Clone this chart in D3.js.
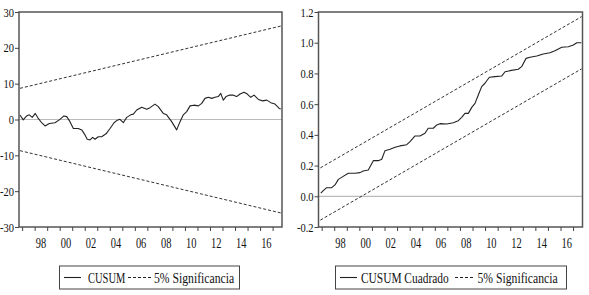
<!DOCTYPE html>
<html><head><meta charset="utf-8">
<script src="https://cdn.jsdelivr.net/npm/d3@7/dist/d3.min.js"></script>
<style>
body{margin:0;background:#fff;}
svg{display:block;}
text{font-family:"Liberation Serif","Times New Roman",serif;fill:#111;}
</style></head>
<body><svg id="c" width="589" height="295"></svg>
<script>
// ---- data (decimal years) ----
const cusumYears = [1996.83,1997.09,1997.36,1997.57,1997.81,1998.05,1998.29,1998.56,1998.83,1999.17,1999.62,1999.97,2000.34,2000.56,2000.82,2001.09,2001.48,2001.76,2002.02,2002.20,2002.42,2002.63,2002.82,2003.08,2003.35,2003.70,2004.02,2004.34,2004.55,2004.81,2005.08,2005.35,2005.67,2005.88,2006.15,2006.55,2006.95,2007.21,2007.61,2007.87,2008.27,2008.54,2008.94,2009.34,2009.61,2009.87,2010.14,2010.41,2010.72,2011.07,2011.34,2011.60,2011.87,2012.14,2012.40,2012.66,2012.86,2013.06,2013.28,2013.54,2013.86,2014.13,2014.40,2014.72,2014.98,2015.25,2015.52,2015.86,2016.21,2016.53,2016.85,2017.19,2017.53,2017.65];
const cusumValues = [1.26,-0.1,1.0,1.3,0.6,1.7,0.3,-0.9,-1.8,-1.1,-0.9,-0.1,1.0,0.8,-0.6,-2.5,-2.5,-2.9,-4.3,-5.5,-5.7,-5.0,-5.5,-4.8,-4.8,-4.0,-2.5,-0.9,-0.3,0.05,-0.9,0.6,1.3,1.5,2.65,3.4,2.85,3.3,4.3,3.6,1.7,1.3,-0.6,-2.9,-0.6,1.3,2.2,3.8,4.0,3.8,4.5,5.9,6.2,5.9,6.2,6.4,7.3,5.4,6.4,6.8,6.8,6.4,7.1,7.6,7.1,6.2,6.8,5.6,5.2,5.4,4.7,4.3,3.1,2.9];
const sqYears = [1996.93,1997.13,1997.40,1997.80,1998.06,1998.33,1998.68,1999.12,1999.65,2000.05,2000.31,2000.71,2001.11,2001.51,2001.78,2002.04,2002.44,2002.84,2003.23,2003.77,2004.03,2004.43,2004.82,2005.22,2005.48,2005.88,2006.15,2006.42,2006.95,2007.47,2007.87,2008.14,2008.40,2008.67,2008.94,2009.20,2009.46,2009.73,2009.99,2010.34,2010.79,2011.32,2011.59,2011.98,2012.64,2012.91,2013.26,2013.57,2014.11,2014.63,2015.16,2015.56,2016.10,2016.63,2017.02,2017.30,2017.56,2017.66];
const sqValues = [0.02,0.037,0.056,0.056,0.074,0.11,0.128,0.15,0.15,0.154,0.165,0.171,0.232,0.232,0.241,0.297,0.306,0.319,0.328,0.336,0.356,0.393,0.393,0.41,0.443,0.443,0.464,0.473,0.471,0.479,0.492,0.514,0.54,0.54,0.579,0.605,0.66,0.714,0.736,0.775,0.779,0.783,0.811,0.818,0.827,0.844,0.898,0.905,0.914,0.927,0.935,0.948,0.97,0.974,0.985,1.0,1.0,1.0];
const bandYears = [1996.83, 2017.68];
const cusumUpper = [8.7, 26.1];
const cusumLower = [-8.7, -26.1];
const sqBandYears = [1996.9, 2017.68];
const sqUpper = [0.185, 1.17];
const sqLower = [-0.155, 0.83];
const yearBoundaries = d3.range(1997, 2018);
const labelYears = [1998,2000,2002,2004,2006,2008,2010,2012,2014,2016];
const leftYTicks = [-30,-20,-10,0,10,20,30];
const rightYTicks = [-0.2,0.0,0.2,0.4,0.6,0.8,1.0,1.2];
const leftLegend = ["CUSUM","5% Significancia"];
const rightLegend = ["CUSUM Cuadrado","5% Significancia"];

const svg = d3.select("#c");
const xDomain = [1996.75, 2017.75];

function panel(opt){
  const g = svg.append("g");
  const x = d3.scaleLinear().domain(xDomain).range([opt.x0, opt.x1]);
  const y = d3.scaleLinear().domain(opt.yDomain).range([opt.y1, opt.y0]);
  // zero line
  g.append("line").attr("x1",opt.x0).attr("x2",opt.x1).attr("y1",y(0)).attr("y2",y(0))
    .attr("stroke","#bbb").attr("stroke-width",1.2);
  const line = d3.line().x(d=>x(d[0])).y(d=>y(d[1]));
  // bands
  [opt.up, opt.lo].forEach(b=>{
    g.append("path").attr("d", line(opt.bandX.map((t,i)=>[t,b[i]])))
      .attr("fill","none").attr("stroke","#333").attr("stroke-width",1).attr("stroke-dasharray","3,2");
  });
  // main line
  g.append("path").attr("d", line(opt.xs.map((t,i)=>[t,opt.vs[i]])))
    .attr("fill","none").attr("stroke","#222").attr("stroke-width",1.1).attr("stroke-linejoin","round");
  // frame
  g.append("rect").attr("x",opt.x0).attr("y",opt.y0).attr("width",opt.x1-opt.x0).attr("height",opt.y1-opt.y0)
    .attr("fill","none").attr("stroke","#555").attr("stroke-width",1.5);
  // y axis
  const ya = g.append("g").attr("transform",`translate(${opt.x0},0)`)
    .call(d3.axisLeft(y).tickValues(opt.yTicks).tickSize(4).tickPadding(1).tickFormat(opt.fmt));
  ya.select(".domain").remove();
  ya.selectAll("line").attr("stroke","#444");
  ya.selectAll("text").style("font-size","12.5px").style("font-family",'"Liberation Serif",serif').attr("fill","#111")
    .attr("transform","scale(0.84,1)").attr("x",-5/0.84);
  // x ticks
  const xa = g.append("g").attr("transform",`translate(0,${opt.y1})`)
    .call(d3.axisBottom(x).tickValues(yearBoundaries).tickSize(4).tickFormat(""));
  xa.select(".domain").remove();
  xa.selectAll("line").attr("stroke","#444");
  // x labels
  const xl = g.append("g");
  labelYears.forEach(yr=>{
    xl.append("text").attr("transform",`translate(${x(yr+0.5)},${opt.y1+21}) scale(0.72,1)`)
      .attr("text-anchor","middle").style("font-size","14.5px").text(String(yr).slice(2));
  });
  // legend
  const L = opt.legend;
  g.append("rect").attr("x",L.x).attr("y",L.y).attr("width",L.w).attr("height",L.h)
    .attr("fill","#fff").attr("stroke","#444").attr("stroke-width",1);
  const ly = L.y + L.h/2;
  g.append("line").attr("x1",L.s1[0]).attr("x2",L.s1[1]).attr("y1",ly).attr("y2",ly).attr("stroke","#222").attr("stroke-width",1.1);
  g.append("text").attr("transform",`translate(${L.t1},${ly+5}) scale(${L.sc1},1)`).style("font-size","15px").text(L.labels[0]);
  g.append("line").attr("x1",L.s2[0]).attr("x2",L.s2[1]).attr("y1",ly).attr("y2",ly).attr("stroke","#222").attr("stroke-width",1).attr("stroke-dasharray","3,2");
  g.append("text").attr("transform",`translate(${L.t2},${ly+5}) scale(0.78,1)`).style("font-size","15px").text(L.labels[1]);
}

panel({x0:19,x1:282,y0:12,y1:227,yDomain:[-30,30],yTicks:leftYTicks,
  fmt:d=>String(d),xs:cusumYears,vs:cusumValues,bandX:bandYears,up:cusumUpper,lo:cusumLower,
  legend:{x:59.5,y:266,w:180,h:23,s1:[64,81],t1:88,sc1:0.7,s2:[128,151],t2:154,labels:leftLegend}});
panel({x0:318.5,x1:582.5,y0:12,y1:227,yDomain:[-0.2,1.2],yTicks:rightYTicks,
  fmt:d=>d3.format(".1f")(d).replace("\u2212","-"),xs:sqYears,vs:sqValues,bandX:sqBandYears,up:sqUpper,lo:sqLower,
  legend:{x:335.5,y:266,w:231,h:23,s1:[340,357],t1:361,sc1:0.76,s2:[455,475],t2:477.5,labels:rightLegend}});
</script></body></html>
